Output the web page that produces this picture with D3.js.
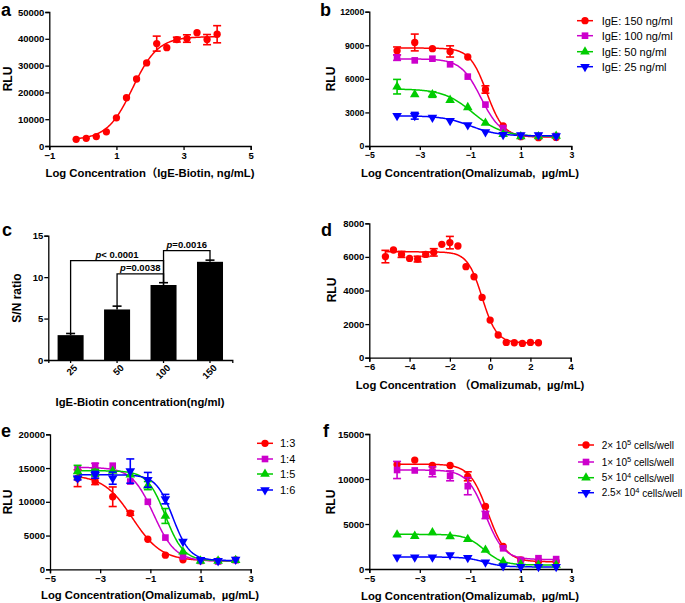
<!DOCTYPE html>
<html><head><meta charset="utf-8">
<script src="https://cdn.jsdelivr.net/npm/d3@7"></script>
<style>
body{margin:0;background:#fff}
text{font-family:Arial,"Liberation Sans","Noto Sans CJK SC",sans-serif}
</style>
</head><body>
<svg id="fig" width="685" height="603"></svg>
<script>
// ---------- DATA ----------
// fit params: [bottom, top, logEC50, hill] (hill>0 rising, hill<0 falling)
// Panel a
const aLogConc = [-0.2,0.1,0.4,0.7,1.0,1.3,1.6,1.9,2.2,2.5,2.8,3.1,3.4,3.7,4.0];
const aRLU     = [2500,2850,3500,5300,10500,18000,25000,31000,38200,36700,39700,40100,42300,39700,41700];
const aErr     = [0,0,0,0,0,0,0,0,2800,0,900,1400,0,1900,3200];
const aFit     = [2300,40800,1.48,1.15];

// Panel b
const bLogConc = [-3.9,-3.2,-2.5,-1.8,-1.1,-0.4,0.3,1.0,1.7,2.4];
const bIgE150 = [8500,9250,8700,8450,7950,5050,1800,830,740,770];
const bIgE150Err = [350,750,0,500,0,330,0,0,0,0];
const bIgE100 = [7900,7650,7800,7300,6200,3700,1600,900,900,900];
const bIgE100Err = [250,0,0,0,0,0,0,0,0,0];
const bIgE50 = [5300,4600,4600,4100,3450,2050,1050,850,850,900];
const bIgE50Err = [650,0,250,0,0,0,0,0,0,0];
const bIgE25 = [2700,2700,2550,2250,1880,1250,1000,980,980,900];
const bIgE25Err = [0,300,0,0,0,0,0,0,0,0];
const bFits = [[800,8750,-0.35,-1.3],[850,7780,-0.58,-1.1],[850,5100,-0.9,-0.75],[900,2700,-1.0,-0.8]];
const bNames = ["IgE: 150 ng/ml","IgE: 100 ng/ml","IgE: 50 ng/ml","IgE: 25 ng/ml"];

// Panel c
const cConc  = ["25","50","100","150"];
const cRatio = [3.0,6.1,9.05,11.85];
const cErr   = [0.2,0.4,0.28,0.2];
const cComparisons = [
  {from:0,to:2,top:12.0,leg1:3.25,leg2:9.33,p:"< 0.0001"},
  {from:1,to:2,top:10.4,leg1:6.5,leg2:9.33,p:"=0.0038"},
  {from:2,to:3,top:13.2,leg1:9.33,leg2:12.07,p:"=0.0016"}
];

// Panel d
const dLogConc = [-5.2,-4.8,-4.4,-4.0,-3.6,-3.2,-2.8,-2.4,-2.0,-1.6,-1.2,-0.8,-0.4,0,0.4,0.8,1.2,1.6,2.0,2.4];
const dRLU = [6020,6410,6150,5910,5870,6150,6270,6750,6850,6650,5420,4820,3590,2240,1350,910,890,850,910,890];
const dErr = [370,0,180,0,170,130,220,0,370,0,0,0,0,0,0,0,0,0,0,0];
const dFit = [880,6300,-0.4,-1.2];

// Panel e
const eLogConc = [-3.9,-3.2,-2.5,-1.8,-1.1,-0.4,0.3,1.0,1.7,2.4];
const e13 = [13500,13000,10750,8300,4450,2100,1400,1250,1250,1400];
const e13Err = [1250,450,1450,300,0,0,0,0,0,0];
const e14 = [14950,15350,15350,13000,10000,4700,1900,1250,1150,1350];
const e14Err = [0,350,0,0,0,0,0,0,0,0];
const e15 = [14500,14300,14550,14000,12400,7900,2600,1250,1250,1350];
const e15Err = [900,500,0,0,600,1100,0,0,0,0];
const e16 = [13500,14000,13500,14550,13250,10400,4100,1400,1250,1450];
const e16Err = [250,500,900,1800,1100,700,0,0,0,0];
const eFits = [[1250,14000,-1.72,-0.75],[1200,15100,-0.87,-1.0],[1250,14600,-0.4,-1.2],[1300,14000,-0.1,-1.3]];
const eNames = ["1:3","1:4","1:5","1:6"];

// Panel f
const fLogConc = [-3.9,-3.2,-2.5,-1.8,-1.1,-0.4,0.3,1.0,1.7,2.4];
const f2e5 = [11600,12100,11500,11500,10300,6950,2500,1000,830,830];
const f2e5Err = [0,0,0,0,500,0,0,0,0,0];
const f1e5 = [11000,10950,10800,10350,9200,6000,2300,1000,1200,1100];
const f1e5Err = [950,0,550,550,950,400,0,0,0,0];
const f5e4 = [3800,3650,4050,3600,3300,2100,820,520,450,450];
const f5e4Err = [0,0,0,0,0,0,0,0,0,0];
const f25e4 = [1300,1300,1300,1550,1250,750,330,260,260,260];
const f25e4Err = [0,0,0,0,0,0,0,0,0,0];
const fFits = [[800,11650,-0.3,-1.2],[1050,11000,-0.4,-1.2],[450,3850,-0.45,-1.2],[230,1330,-0.45,-1.2]];
const fNames = [["2× 10","5"," cells/well"],["1× 10","5"," cells/well"],["5× 10","4"," cells/well"],["2.5× 10","4"," cells/well"]];

// ---------- DRAWING ----------
const RED="#ff0000", MAG="#cc00cc", GRN="#00cc00", BLU="#0000ff";
const svg = d3.select("#fig");

function fourPL(p, x){ const [b,t,ec,h]=p; return b + (t-b)/(1+Math.pow(10,(ec-x)*h)); }

function marker(g, shape, color, x, y){
  let sym, size, rot=0;
  if(shape==="circle"){sym=d3.symbolCircle;size=42;}
  else if(shape==="square"){sym=d3.symbolSquare;size=44;}
  else if(shape==="up"){sym=d3.symbolTriangle;size=40;}
  else {sym=d3.symbolTriangle;size=40;rot=180;}
  g.append("path").attr("d", d3.symbol(sym,size)())
   .attr("transform",`translate(${x},${y}) rotate(${rot})`).attr("fill",color);
}

function styleAxis(ax, fs){
  ax.select(".domain").attr("stroke","#000").attr("stroke-width",1.3);
  ax.selectAll(".tick line").attr("stroke","#000").attr("stroke-width",1.3);
  ax.selectAll(".tick text").attr("font-size",fs).attr("font-weight","bold")
    .attr("font-family",'Arial,"Liberation Sans",sans-serif').attr("fill","#000");
}

function letter(t,x,y){
  svg.append("text").attr("x",x).attr("y",y).attr("font-size",18).attr("font-weight","bold").text(t);
}
function yTitle(t,x,y){
  svg.append("text").attr("transform",`translate(${x},${y}) rotate(-90)`).attr("text-anchor","middle")
    .attr("font-size",12).attr("font-weight","bold").text(t);
}
function xTitle(t,x,y){
  svg.append("text").attr("x",x).attr("y",y).attr("text-anchor","middle")
    .attr("font-size",11.3).attr("font-weight","bold").text(t);
}

function xyPanel(c){
  const x = d3.scaleLinear().domain(c.xDomain).range([c.left,c.right]);
  const y = d3.scaleLinear().domain(c.yDomain).range([c.bottom,c.top]);
  const g = svg.append("g");
  const ax = g.append("g").attr("transform",`translate(0,${c.bottom})`)
    .call(d3.axisBottom(x).tickValues(c.xTicks).tickSizeOuter(0).tickSize(4).tickPadding(2).tickFormat(d3.format("d")));
  styleAxis(ax,c.fs);
  const ay = g.append("g").attr("transform",`translate(${c.left},0)`)
    .call(d3.axisLeft(y).tickValues(c.yTicks).tickSizeOuter(0).tickSize(4).tickPadding(1).tickFormat(d3.format("d")));
  styleAxis(ay,c.fs);
  const line = d3.line().x(d=>x(d[0])).y(d=>y(d[1]));
  c.series.forEach(s=>{
    const lo=d3.min(s.x), hi=d3.max(s.x);
    const pts=d3.range(0,201).map(i=>{const xv=lo+(hi-lo)*i/200;return [xv,fourPL(s.fit,xv)];});
    g.append("path").attr("d",line(pts)).attr("fill","none").attr("stroke",s.color).attr("stroke-width",1.5);
  });
  c.series.forEach(s=>{
    s.x.forEach((xv,i)=>{
      const e=s.err[i]; if(!e) return;
      const px=x(xv), y1=y(s.y[i]+e), y2=y(s.y[i]-e);
      g.append("line").attr("x1",px).attr("x2",px).attr("y1",y1).attr("y2",y2).attr("stroke",s.color).attr("stroke-width",1.6);
      [y1,y2].forEach(yy=>g.append("line").attr("x1",px-4).attr("x2",px+4).attr("y1",yy).attr("y2",yy).attr("stroke",s.color).attr("stroke-width",1.6));
    });
    s.x.forEach((xv,i)=>marker(g,s.shape,s.color,x(xv),y(s.y[i])));
  });
  if(c.legend){
    c.series.forEach((s,i)=>{
      const ly=c.legend.rows[i];
      g.append("line").attr("x1",c.legend.mx-8).attr("x2",c.legend.mx+8).attr("y1",ly).attr("y2",ly).attr("stroke",s.color).attr("stroke-width",1.5);
      marker(g,s.shape,s.color,c.legend.mx,ly);
      const t=g.append("text").attr("x",c.legend.tx).attr("y",ly).attr("dy","0.36em").attr("font-size",c.legend.fs).attr("fill","#000");
      if(Array.isArray(s.name)){
        t.append("tspan").text(s.name[0]);
        t.append("tspan").attr("dy","-0.5em").attr("font-size",c.legend.fs*0.75).text(s.name[1]);
        t.append("tspan").attr("dy","0.4em").text(s.name[2]);
      } else t.text(s.name);
    });
  }
}

function mk(xs, ys, errs, fits, names){
  const colors=[RED,MAG,GRN,BLU], shapes=["circle","square","up","down"];
  return ys.map((yv,i)=>({x:xs,y:yv,err:errs[i],fit:fits[i],color:colors[i],shape:shapes[i],name:names?names[i]:""}));
}

const OMA = "Log Concentration(Omalizumab, \u00a0µg/mL)";

// Panel a
xyPanel({left:49.3,right:250.7,top:12,bottom:146,xDomain:[-1,5],yDomain:[0,50000],
  xTicks:[-1,1,3,5],yTicks:[0,10000,20000,30000,40000,50000],fs:9.5,
  series:[{x:aLogConc,y:aRLU,err:aErr,fit:aFit,color:RED,shape:"circle"}]});
letter("a",1,16); yTitle("RLU",12,79); xTitle("Log Concentration（IgE-Biotin, ng/mL)",150,177);

// Panel b
xyPanel({left:369.3,right:571.3,top:11.7,bottom:146,xDomain:[-5,3],yDomain:[0,12000],
  xTicks:[-5,-3,-1,1,3],yTicks:[0,3000,6000,9000,12000],fs:8.7,
  series:mk(bLogConc,[bIgE150,bIgE100,bIgE50,bIgE25],[bIgE150Err,bIgE100Err,bIgE50Err,bIgE25Err],bFits,bNames),
  legend:{mx:585,tx:601.7,fs:11,rows:[20.7,35.7,51.7,66.7]}});
letter("b",320,16); yTitle("RLU",335,79); xTitle(OMA,470,177);

// Panel c
(function(){
  const x=d3.scaleBand().domain(cConc).range([48.3,232.3]).paddingInner(0.44).paddingOuter(0.2);
  const y=d3.scaleLinear().domain([0,15]).range([360,235.7]);
  const g=svg.append("g");
  g.selectAll("rect.bar").data(cConc).enter().append("rect")
    .attr("x",d=>x(d)).attr("width",x.bandwidth())
    .attr("y",(d,i)=>y(cRatio[i])).attr("height",(d,i)=>y(0)-y(cRatio[i])).attr("fill","#000");
  cConc.forEach((d,i)=>{
    const cx=x(d)+x.bandwidth()/2, yt=y(cRatio[i]+cErr[i]);
    g.append("line").attr("x1",cx).attr("x2",cx).attr("y1",y(cRatio[i])).attr("y2",yt).attr("stroke","#000").attr("stroke-width",1.6);
    g.append("line").attr("x1",cx-4.5).attr("x2",cx+4.5).attr("y1",yt).attr("y2",yt).attr("stroke","#000").attr("stroke-width",1.6);
  });
  const ax=g.append("g").attr("transform","translate(0,360)").call(d3.axisBottom(x).tickSizeOuter(0).tickSize(3));
  styleAxis(ax,9.5);
  ax.selectAll(".tick text").attr("text-anchor","end").attr("dy","0.36em")
    .attr("transform","translate(5,3) rotate(-45,0,3)").attr("y",3).attr("x",0);
  const ay=g.append("g").attr("transform","translate(48.3,0)").call(d3.axisLeft(y).tickValues([0,5,10,15]).tickSizeOuter(0).tickSize(4).tickPadding(1));
  styleAxis(ay,9.5);
  cComparisons.forEach(cp=>{
    const x1=x(cConc[cp.from])+x.bandwidth()/2, x2=x(cConc[cp.to])+x.bandwidth()/2;
    const yt=y(cp.top);
    g.append("path").attr("d",`M${x1},${y(cp.leg1)}V${yt}H${x2}V${y(cp.leg2)}`)
      .attr("fill","none").attr("stroke","#000").attr("stroke-width",1.3);
    const t=g.append("text").attr("x",(x1+x2)/2).attr("y",yt-3).attr("text-anchor","middle")
      .attr("font-size",9.5).attr("font-weight","bold");
    t.append("tspan").attr("font-style","italic").text("p");
    t.append("tspan").text(cp.p);
  });
})();
letter("c",2,236); yTitle("S/N ratio",21,298); xTitle("IgE-Biotin concentration(ng/ml)",140,406);

// Panel d
xyPanel({left:369.3,right:570.7,top:223.3,bottom:357.7,xDomain:[-6,4],yDomain:[0,8000],
  xTicks:[-6,-4,-2,0,2,4],yTicks:[0,2000,4000,6000,8000],fs:9.5,
  series:[{x:dLogConc,y:dRLU,err:dErr,fit:dFit,color:RED,shape:"circle"}]});
letter("d",321,236); yTitle("RLU",336,290); xTitle("Log Concentration （Omalizumab, \u00a0µg/mL)",470,389);

// Panel e
xyPanel({left:50,right:250.7,top:434.3,bottom:569.3,xDomain:[-5,3],yDomain:[0,20000],
  xTicks:[-5,-3,-1,1,3],yTicks:[0,5000,10000,15000,20000],fs:9.5,
  series:mk(eLogConc,[e13,e14,e15,e16],[e13Err,e14Err,e15Err,e16Err],eFits,eNames),
  legend:{mx:265,tx:280,fs:11,rows:[443.3,459,474,490]}});
letter("e",1,437); yTitle("RLU",12,502); xTitle(OMA,150,599);

// Panel f
xyPanel({left:369.3,right:571.3,top:434,bottom:569,xDomain:[-5,3],yDomain:[0,15000],
  xTicks:[-5,-3,-1,1,3],yTicks:[0,5000,10000,15000],fs:9.5,
  series:mk(fLogConc,[f2e5,f1e5,f5e4,f25e4],[f2e5Err,f1e5Err,f5e4Err,f25e4Err],fFits,fNames),
  legend:{mx:586,tx:601.7,fs:10,rows:[445,462,477.7,492.7]}});
letter("f",323,437); yTitle("RLU",335,502); xTitle(OMA,470,600);
</script>
</body></html>
